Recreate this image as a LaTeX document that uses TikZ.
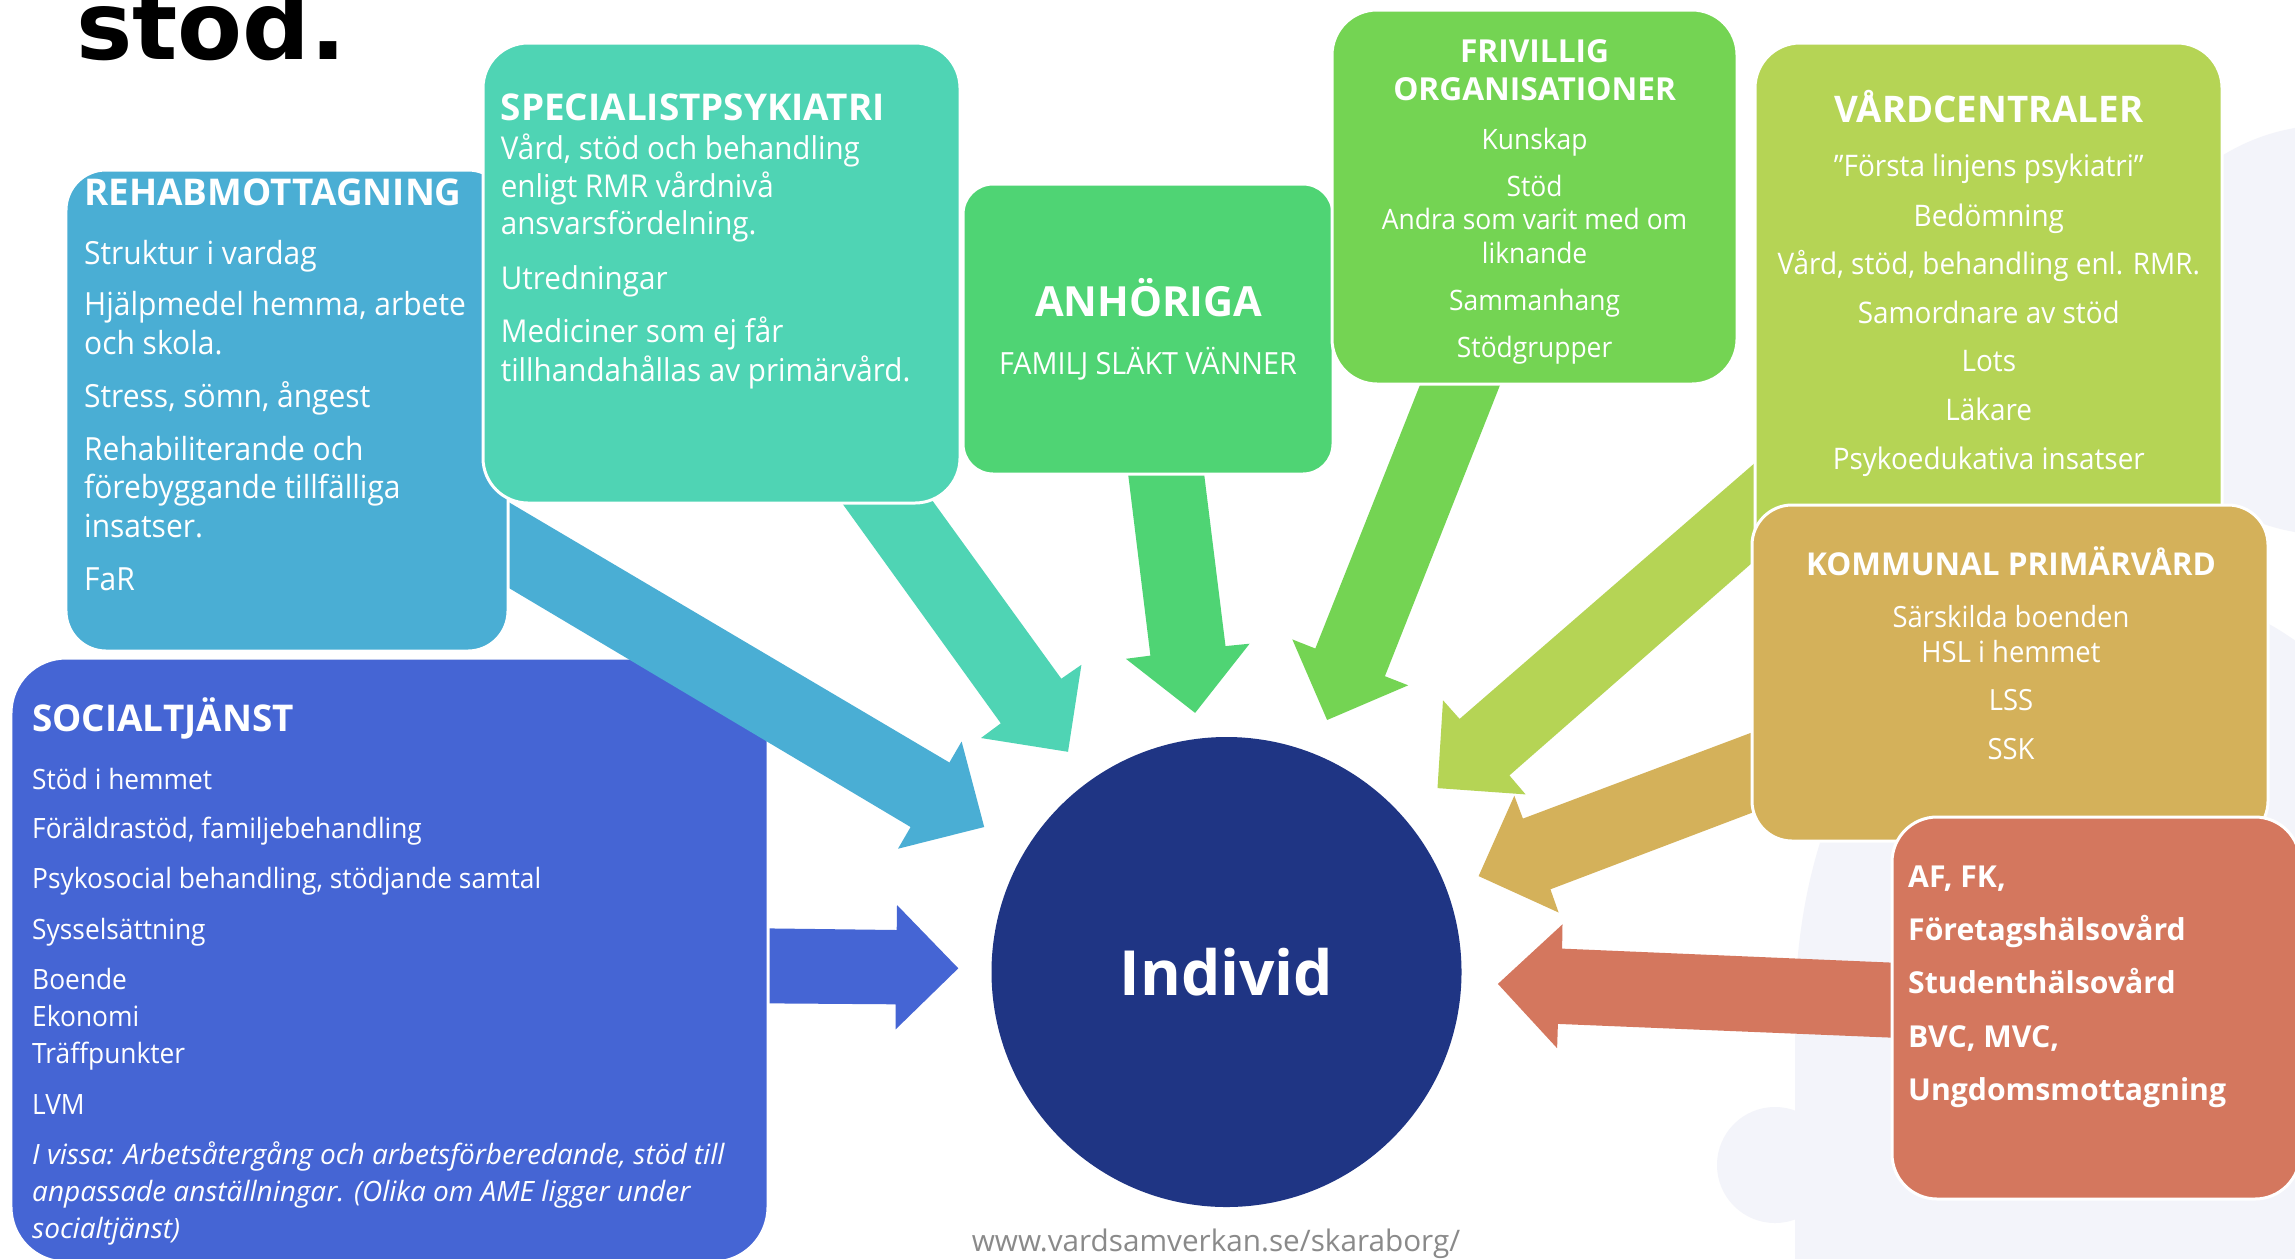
\documentclass[tikz,border=0pt]{standalone}
\usepackage{fontspec}
\setmainfont{Open Sans}
\newfontfamily\bodyf{Open Sans}[FakeStretch=0.94]
\newfontfamily\titlef{DejaVu Sans}
\newcommand\fsz[1]{\fontsize{#1}{#1}\selectfont}
\definecolor{rehabc}{HTML}{4AAED4}
\definecolor{specc}{HTML}{4FD4B4}
\definecolor{anhc}{HTML}{4FD474}
\definecolor{frivc}{HTML}{74D453}
\definecolor{vardc}{HTML}{B5D455}
\definecolor{kommc}{HTML}{D4B15A}
\definecolor{afc}{HTML}{D4775E}
\definecolor{socc}{HTML}{4565D4}
\definecolor{indc}{HTML}{1F3584}
\definecolor{faintc}{HTML}{F3F4FA}
\definecolor{webc}{HTML}{8A8A8A}
\tikzset{
  box/.style={draw=white, line width=3bp, rounded corners=40bp, inner sep=0},
  txt/.style={inner sep=0, text=white, anchor=base west},
  ctxt/.style={inner sep=0, text=white, anchor=base},
}
\begin{document}
\begin{tikzpicture}[x=1bp,y=-1bp]
\clip (0,0) rectangle (2295,1258);
\fill[white] (0,0) rectangle (2295,1258);
% faint background silhouette
\fill[faintc] (2330,330) circle (205bp);
\fill[faintc] (1795,1300) -- (1795,1000) .. controls (1800,850) and (1850,700) .. (2000,620)
  .. controls (2150,560) and (2250,600) .. (2320,660) -- (2320,1300) -- cycle;
\fill[faintc] (1775,1165) circle (58bp);

% title
\node[inner sep=0, anchor=base west, font=\titlef\bfseries\fsz{95}] (title) at (76,59.7) {stöd.};

% socialtjänst arrow and box
\fill[socc] (760,928.3) -- (896.7,930) -- (897,905) -- (958.3,968.3) -- (895.7,1029.3) -- (895.7,1004.3) -- (760,1003.3) -- cycle;
\node[box, rounded corners=55bp, fill=socc, minimum width=757bp, minimum height=604bp] (soc) at (389.5,960) {};

% rehab arrow and box
\fill[rehabc] (500,497) -- (949.4,762.5) -- (961.6,741.5) -- (984.2,827) -- (898,848.7) -- (910.6,827) -- (500,582.7) -- cycle;
\node[box, fill=rehabc, minimum width=442bp, minimum height=481bp] (rehab) at (287,410.5) {};

% specialist arrow and box
\fill[specc] (832.6,490) -- (1000.8,723.3) -- (981,738) -- (1068,751.8) -- (1081.4,664.8) -- (1061.3,678.7) -- (924.7,490) -- cycle;
\node[box, rounded corners=45bp, fill=specc, minimum width=477bp, minimum height=460bp] (spec) at (721.5,273) {};

% anhöriga
\fill[anhc] (1127,465) -- (1150.4,655.6) -- (1125.9,658.8) -- (1195.1,712.9) -- (1249.6,643.7) -- (1225.5,646.1) -- (1203,465) -- cycle;
\node[box, rounded corners=30bp, fill=anhc, minimum width=370bp, minimum height=290bp] (anh) at (1148,329) {};

% frivillig
\fill[frivc] (1423.9,375) -- (1315.3,648.5) -- (1292.3,639.4) -- (1327.1,720) -- (1408.2,685.3) -- (1384.9,676.2) -- (1504,375) -- cycle;
\node[box, rounded corners=45bp, fill=frivc, minimum width=405bp, minimum height=374bp] (friv) at (1534.5,197) {};

% vårdcentraler
\fill[vardc] (1770,449.8) -- (1459.6,718.9) -- (1443,700.3) -- (1437.5,788.1) -- (1525.6,794.4) -- (1509.4,775.4) -- (1770,547.2) -- cycle;
\node[box, rounded corners=45bp, fill=vardc, minimum width=467bp, minimum height=577bp] (vard) at (1988.5,331.5) {};

% kommunal
\fill[kommc] (1780,721.9) -- (1522.9,818.6) -- (1514.3,795.7) -- (1478.6,876.1) -- (1558.6,912.5) -- (1550.4,889.3) -- (1780,802.1) -- cycle;
\node[box, fill=kommc, minimum width=516bp, minimum height=336bp] (komm) at (2010,673) {};

% AF
\fill[afc] (1920,963.8) -- (1562.1,948.6) -- (1562.5,924.3) -- (1497.9,983.9) -- (1557.1,1048.2) -- (1557.9,1023.9) -- (1920,1038.8) -- cycle;
\node[box, rounded corners=45bp, fill=afc, minimum width=408bp, minimum height=382bp] (af) at (2096,1008) {};

% individ
\node[circle, fill=indc, minimum size=470bp, inner sep=0] (ind) at (1226.5,972) {};
\node[ctxt, font=\bfseries\fsz{62.5}] (ind-t) at (1226.5,995) {Individ};

% texts: rehab
\node[txt, font=\bfseries\fsz{37}] (r0) at (84,205) {REHABMOTTAGNING};
\begin{scope}[every node/.style={txt, font=\bodyf\fsz{32}}]
\node (r1) at (84,264.3) {Struktur i vardag};
\node (r2) at (84,315.6) {Hjälpmedel hemma, arbete};
\node (r3) at (84,354.8) {och skola.};
\node (r4) at (84,407.4) {Stress, sömn, ångest};
\node (r5) at (84,460) {Rehabiliterande och};
\node (r6) at (84,498.7) {förebyggande tillfälliga};
\node (r7) at (84,537.5) {insatser.};
\node (r8) at (84,590.5) {FaR};
\end{scope}

% specialist
\node[txt, font=\bfseries\fsz{37}] (s0) at (500.6,120) {SPECIALISTPSYKIATRI};
\begin{scope}[every node/.style={txt, font=\bodyf\fsz{31.6}}]
\node (s1) at (500.6,159) {Vård, stöd och behandling};
\node (s2) at (500.6,197) {enligt RMR vårdnivå};
\node (s3) at (500.6,234.8) {ansvarsfördelning.};
\node (s4) at (500.6,289.6) {Utredningar};
\node (s5) at (500.6,342) {Mediciner som ej får};
\node (s6) at (500.6,381) {tillhandahållas av primärvård.};
\end{scope}

% anhöriga
\node[ctxt, font=\bfseries\fsz{41.7}] (a0) at (1148.6,316.5) {ANHÖRIGA};
\node[ctxt, font=\bodyf\fsz{30.7}] (a1) at (1148,374.6) {FAMILJ SLÄKT VÄNNER};

% frivillig
\node[ctxt, font=\bfseries\fsz{31.8}] (f0) at (1534.6,62.3) {FRIVILLIG};
\node[ctxt, font=\bfseries\fsz{31.8}] (f1) at (1534.6,100.2) {ORGANISATIONER};
\begin{scope}[every node/.style={ctxt, font=\bodyf\fsz{28.2}}]
\node (f2) at (1534.6,149.4) {Kunskap};
\node (f3) at (1534.6,196) {Stöd};
\node (f4) at (1534.6,229.4) {Andra som varit med om};
\node (f5) at (1534.6,263.9) {liknande};
\node (f6) at (1534.6,310.2) {Sammanhang};
\node (f7) at (1534.6,357) {Stödgrupper};
\end{scope}

% vårdcentraler
\node[ctxt, font=\bfseries\fsz{36.8}] (v0) at (1988.8,122.9) {VÅRDCENTRALER};
\begin{scope}[every node/.style={ctxt, font=\bodyf\fsz{29.8}}]
\node (v1) at (1988.8,176.8) {”Första linjens psykiatri”};
\node (v2) at (1988.8,226) {Bedömning};
\node (v3) at (1988.8,274.4) {Vård, stöd, behandling enl. RMR.};
\node (v4) at (1988.8,323.2) {Samordnare av stöd};
\node (v5) at (1988.8,371.6) {Lots};
\node (v6) at (1988.8,420) {Läkare};
\node (v7) at (1988.8,469.3) {Psykoedukativa insatser};
\end{scope}

% kommunal
\node[ctxt, font=\bfseries\fsz{31.6}] (k0) at (2011,575.8) {KOMMUNAL PRIMÄRVÅRD};
\begin{scope}[every node/.style={ctxt, font=\bodyf\fsz{29.3}}]
\node (k1) at (2011,627.4) {Särskilda boenden};
\node (k2) at (2011,662) {HSL i hemmet};
\node (k3) at (2011,710.7) {LSS};
\node (k4) at (2011,759.3) {SSK};
\end{scope}

% AF
\begin{scope}[every node/.style={txt, font=\bfseries\fsz{30.3}}]
\node (af1) at (1908,887.9) {AF, FK,};
\node (af2) at (1908,940.5) {Företagshälsovård};
\node (af3) at (1908,993.5) {Studenthälsovård};
\node (af4) at (1908,1047) {BVC, MVC,};
\node (af5) at (1908,1100) {Ungdomsmottagning};
\end{scope}

% socialtjänst
\node[txt, font=\bfseries\fsz{37}] (so0) at (32,731.4) {SOCIALTJÄNST};
\begin{scope}[every node/.style={txt, font=\bodyf\fsz{28.1}}]
\node (so1) at (32,789) {Stöd i hemmet};
\node (so2) at (32,838.3) {Föräldrastöd, familjebehandling};
\node (so3) at (32,888.3) {Psykosocial behandling, stödjande samtal};
\node (so4) at (32,939.6) {Sysselsättning};
\node (so5) at (32,989.6) {Boende};
\node (so6) at (32,1026.3) {Ekonomi};
\node (so7) at (32,1063) {Träffpunkter};
\node (so8) at (32,1114.2) {LVM};
\node[font=\itshape\fsz{28.1}] (so9) at (32,1164.2) {I vissa: Arbetsåtergång och arbetsförberedande, stöd till};
\node[font=\itshape\fsz{28.1}] (so10) at (32,1201.7) {anpassade anställningar. (Olika om AME ligger under};
\node[font=\itshape\fsz{28.1}] (so11) at (32,1238) {socialtjänst)};
\end{scope}

% website
\node[inner sep=0, anchor=base, text=webc, font=\fsz{29.8}] (web) at (1216,1251) {www.vardsamverkan.se/skaraborg/};
\end{tikzpicture}
\end{document}
